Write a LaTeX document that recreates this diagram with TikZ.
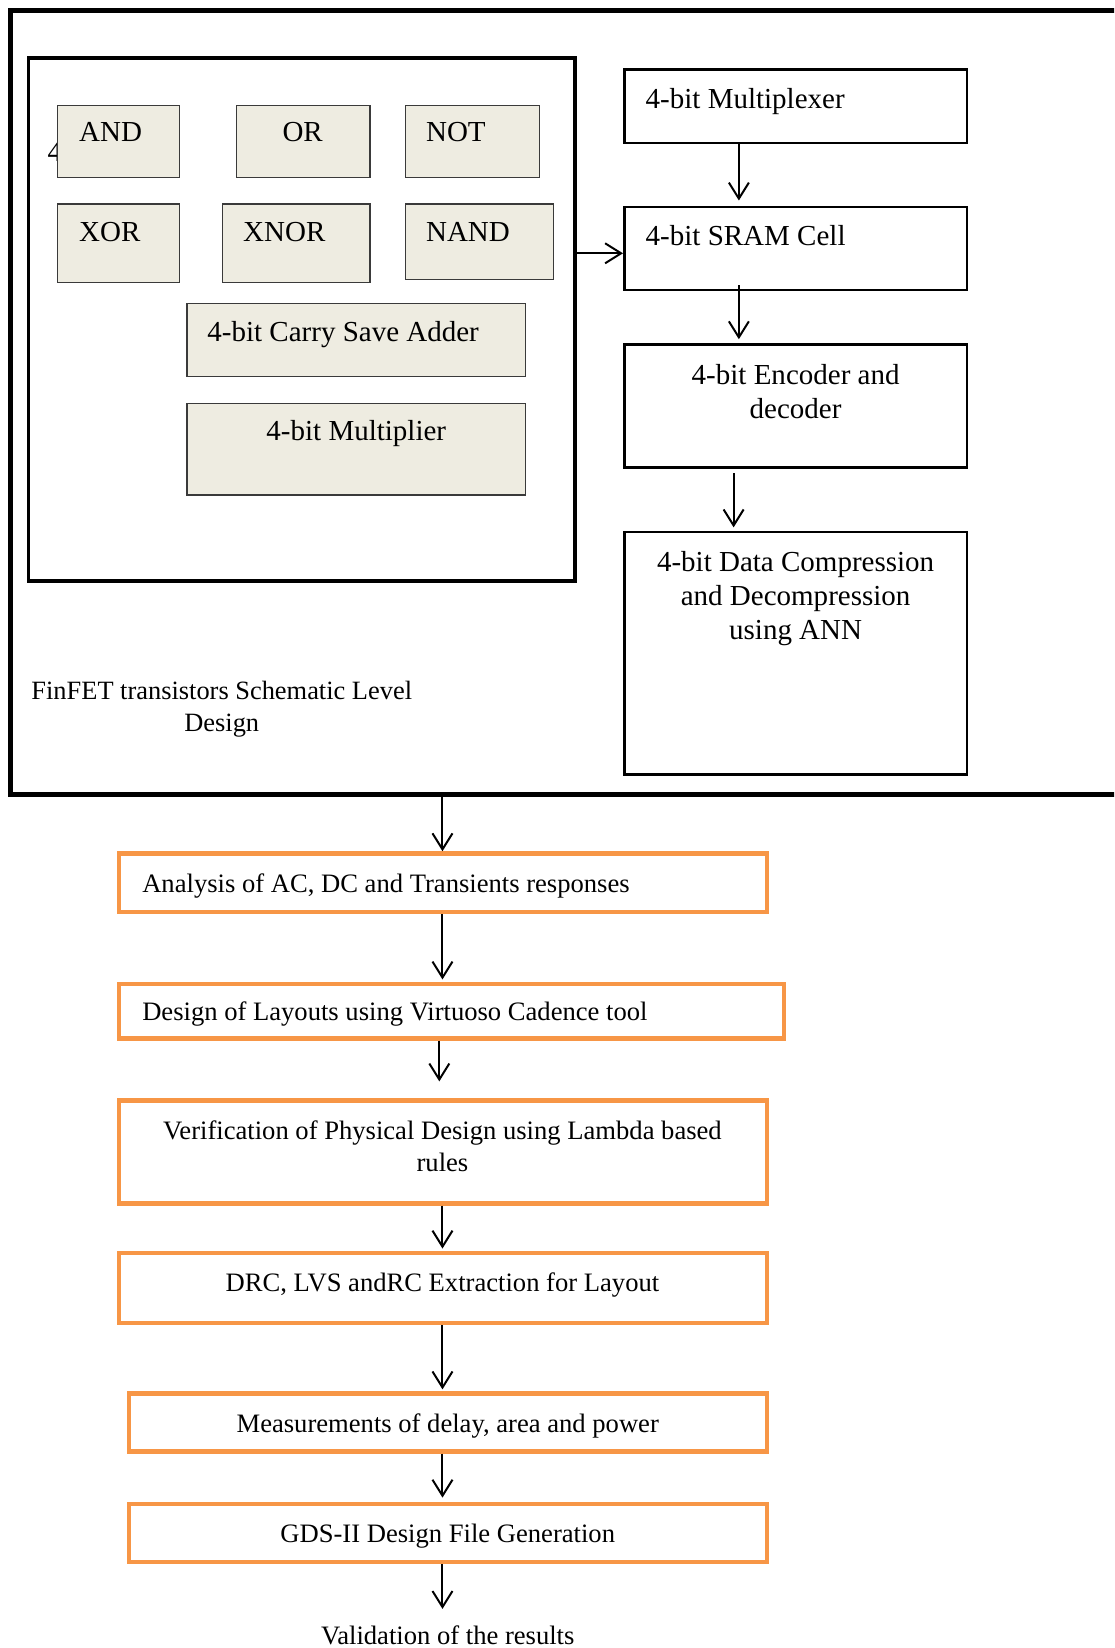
\documentclass[tikz,border=0pt]{standalone}
\usepackage{fontspec}
\setmainfont{Liberation Serif}
\usepackage{xcolor}
\usepackage{tikz}
\usetikzlibrary{positioning, arrows.meta, calc, fit}
\definecolor{gateFill}{HTML}{EEECE1}
\definecolor{gateB}{HTML}{3a3a3a}
\definecolor{stageB}{HTML}{F79646}

\begin{document}
\begin{tikzpicture}[x=0.52545pt, y=-0.52545pt,
  frm/.style={draw, line width=2.6pt, inner sep=0pt},
  gate/.style={draw=gateB, fill=gateFill, line width=0.6pt, inner sep=0pt},
  blk/.style={draw, line width=1.3pt, inner sep=0pt},
  stage/.style={draw=stageB, line width=2.2pt, inner sep=0pt},
  lbl/.style={font=\fontsize{14.5}{17}\selectfont, inner sep=0pt},
  slbl/.style={font=\fontsize{13.3}{15.8}\selectfont, inner sep=0pt},
  arr/.style={-{Straight Barb[length=8pt, width=10pt]}, line width=1pt}]
\useasboundingbox (0,0) rectangle (1060,1568);
\clip (0,0) rectangle (1060,1568);
% schematic level frame
\node[frm, fit={(10,10) (1090,756)}] (frame) {};
\node[frm, line width=1.8pt, fit={(27,55) (547,553)}] (gates) {};
\node[lbl, anchor=base west] (stray) at (45,154) {4};
\node[gate, fit={(55,100) (171,169)}] (andg) {};
\node[lbl, anchor=base west] (andT) at (75,135) {AND};
\node[gate, fit={(225,100) (352,169)}] (org) {};
\node[lbl, anchor=base] (orT) at (288,135) {OR};
\node[gate, fit={(386,100) (513,169)}] (notg) {};
\node[lbl, anchor=base west] (notT) at (405,135) {NOT};
\node[gate, fit={(55,194) (171,269)}] (xorg) {};
\node[lbl, anchor=base west] (xorT) at (75,230) {XOR};
\node[gate, fit={(212,194) (352,269)}] (xnorg) {};
\node[lbl, anchor=base west] (xnorT) at (231,230) {XNOR};
\node[gate, fit={(386,194) (527,266)}] (nandg) {};
\node[lbl, anchor=base west] (nandT) at (405,230) {NAND};
\node[gate, fit={(178,289) (500,358)}] (csa) {};
\node[lbl, anchor=base west] (csaT) at (197,325) {4-bit Carry Save Adder};
\node[gate, fit={(178,384) (500,471)}] (mult) {};
\node[lbl, anchor=base] (multT) at (339,419) {4-bit Multiplier};
\node[font=\fontsize{13.2}{15.8}\selectfont, inner sep=0pt, anchor=north, align=center] (finT) at (211,648) {FinFET transistors Schematic Level\\Design};
% right column
\node[blk, fit={(594,66) (920,136)}] (mux) {};
\node[lbl, anchor=base west] (muxT) at (614,103) {4-bit Multiplexer};
\node[blk, fit={(594,197) (920,276)}] (sram) {};
\node[lbl, anchor=base west] (sramT) at (614,234) {4-bit SRAM Cell};
\node[blk, fit={(594,328) (920,445)}] (enc) {};
\node[lbl, anchor=north, align=center] (encT) at (757,346) {4-bit Encoder and\\decoder};
\node[blk, fit={(594,506) (920,737)}] (dcmp) {};
\node[lbl, anchor=north, align=center] (dcmpT) at (757,524) {4-bit Data Compression\\and Decompression\\using ANN};
% layout flow
\node[stage, fit={(113,812) (730,868)}] (anl) {};
\node[slbl, anchor=base west] (anlT) at (135,849) {Analysis of AC, DC and Transients responses};
\node[stage, fit={(113,936) (746,988)}] (lay) {};
\node[slbl, anchor=base west] (layT) at (135,971) {Design of Layouts using Virtuoso Cadence tool};
\node[stage, fit={(113,1047) (730,1145)}] (ver) {};
\node[slbl, anchor=north, align=center] (verT) at (421,1066) {Verification of Physical Design using Lambda based\\rules};
\node[stage, fit={(113,1192) (730,1259)}] (drc) {};
\node[slbl, anchor=base] (drcT) at (421,1229) {DRC, LVS andRC Extraction for Layout};
\node[stage, fit={(123,1326) (730,1381)}] (meas) {};
\node[slbl, anchor=base] (measT) at (426,1363) {Measurements of delay, area and power};
\node[stage, fit={(123,1431) (730,1486)}] (gds) {};
\node[slbl, anchor=base] (gdsT) at (426,1468) {GDS-II Design File Generation};
\node[slbl, anchor=base] (valid) at (426,1565) {Validation of the results};
% connectors
\coordinate (rcol) at (703,0);
\coordinate (gy) at (0,241);
\coordinate (lcol) at (421,0);
\draw[arr] (mux.south -| rcol) -- ($(sram.north -| rcol)+(0,-5)$);
\draw[arr] ($(sram.south -| rcol)+(0,-6)$) -- ($(enc.north -| rcol)+(0,-4)$);
\draw[arr] ($(enc.south)+(-59,4)$) -- ($(dcmp.north)+(-59,-3)$);
\draw[arr] (gates.east |- gy) -- (sram.west |- gy);
\draw[arr] (frame.south -| lcol) -- (anl.north -| lcol);
\draw[arr] (anl.south -| lcol) -- ($(lay.north -| lcol)+(0,-2)$);
\draw[arr] ($(lay.south -| lcol)+(-3,0)$) -- ($(ver.north -| lcol)+(-3,-16)$);
\draw[arr] (ver.south -| lcol) -- ($(drc.north -| lcol)+(0,-2)$);
\draw[arr] (drc.south -| lcol) -- ($(meas.north -| lcol)+(0,-2)$);
\draw[arr] (meas.south -| lcol) -- ($(gds.north -| lcol)+(0,-4)$);
\draw[arr] (gds.south -| lcol) -- ($(valid.north -| lcol)+(0,-16)$);
\end{tikzpicture}
\end{document}
